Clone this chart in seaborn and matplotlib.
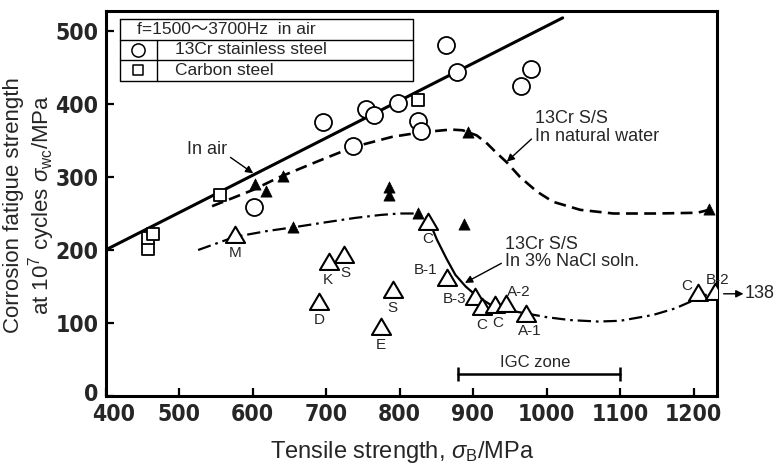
import numpy as np
import pandas as pd
import matplotlib
matplotlib.use("Agg")
import matplotlib.pyplot as plt
from matplotlib import font_manager as fm
from matplotlib.path import Path
import matplotlib.transforms as mtransforms
import seaborn as sns

# ---------------- data ----------------
circle_x = [602, 696, 737, 754, 765, 798, 825, 829, 863, 878, 965, 979]
circle_y = [259, 375, 343, 393, 385, 401, 377, 363, 481, 444, 425, 448]

square_x = [458, 458, 465, 556, 825]
square_y = [201, 216, 222, 276, 405]

filled_tri_x = [603, 619, 642, 655, 786, 786, 825, 888, 893, 1221]
filled_tri_y = [291, 281, 301, 231, 286, 276, 251, 235, 362, 256]

open_tri_labels = ["M", "K", "S", "D", "S", "E", "C", "B-1", "B-3", "C", "C",
                   "A-2", "A-1", "C", "B-2"]
open_tri_x = [576, 704, 724, 691, 791, 775, 839, 864, 903, 912, 930, 945, 972, 1206, 1229]
open_tri_y = [220, 184, 193, 129, 145, 95, 238, 161, 136, 122, 125, 126, 112, 141, 142]

air_x = [400, 1022]
air_y = [200, 518]

water_x = [545, 600, 637, 690, 737, 790, 828, 870, 886, 905, 919, 930, 946, 964,
           987, 1009, 1046, 1091, 1150, 1205, 1221]
water_y = [260, 282, 300, 322, 341, 355, 361, 365, 364, 357, 346, 335, 320, 300,
           280, 266, 255, 250, 250, 251, 255]

nacl_a_x = [526, 576, 620, 655, 700, 740, 774, 800, 825, 839]
nacl_a_y = [200, 218, 226, 231, 238, 244, 248, 250, 250, 243]
nacl_b_x = [839, 851, 864, 876, 890, 905, 927, 950, 973]
nacl_b_y = [243, 214, 188, 166, 150, 137, 123, 117, 113]
nacl_c_x = [973, 1000, 1032, 1070, 1100, 1145, 1175, 1200, 1218]
nacl_c_y = [113, 108, 104, 102, 103, 111, 120, 131, 139]

igc_x = [880, 1100]
igc_y = [30, 30]

x_ticks = [400, 500, 600, 700, 800, 900, 1000, 1100, 1200]
y_ticks = [0, 100, 200, 300, 400, 500]

# ---------------- style ----------------
sns.set_theme(style="ticks")
plt.rcParams['font.family'] = ['Liberation Sans', 'DejaVu Sans']
plt.rcParams['mathtext.fontset'] = 'custom'
plt.rcParams['mathtext.rm'] = 'Liberation Sans'
plt.rcParams['mathtext.it'] = 'Liberation Sans:italic'

# pick a condensed bold font for the tick numbers if one is installed
tick_fp = None
for fam in ['Liberation Sans Narrow', 'DejaVu Sans', 'Roboto', 'Open Sans', 'Noto Sans']:
    fp = fm.FontProperties(family=fam, weight='bold', stretch='condensed')
    try:
        path = fm.findfont(fp, fallback_to_default=False)
    except Exception:
        continue
    if 'ondensed' in path or 'arrow' in path:
        tick_fp = dict(family=fam, fontweight='bold', fontstretch='condensed', fontsize=16.5)
        break
if tick_fp is None:
    tick_fp = dict(family='Liberation Sans', fontweight='bold', fontsize=15)

fig = plt.figure(figsize=(7.75, 4.66), dpi=100)
L, R, T, B = 105.5, 717, 11, 396
ax = fig.add_axes([L / 775, 1 - B / 466, (R - L) / 775, (B - T) / 466])

K = 'black'

# lines
sns.lineplot(x=air_x, y=air_y, ax=ax, color=K, lw=2.2, sort=False)
sns.lineplot(x=water_x, y=water_y, ax=ax, color=K, lw=1.9, sort=False,
             linestyle=(0, (4.5, 2.4)))
sns.lineplot(x=nacl_a_x, y=nacl_a_y, ax=ax, color=K, lw=1.6, sort=False,
             linestyle=(0, (6, 2.2, 1.2, 2.2)))
sns.lineplot(x=nacl_b_x, y=nacl_b_y, ax=ax, color=K, lw=1.6, sort=False)
sns.lineplot(x=nacl_c_x, y=nacl_c_y, ax=ax, color=K, lw=1.6, sort=False,
             linestyle=(0, (6, 2.2, 1.2, 2.2)))

# markers
tri_open = Path([(-1, -0.78), (1, -0.78), (0, 0.92), (-1, -0.78)],
                [Path.MOVETO, Path.LINETO, Path.LINETO, Path.CLOSEPOLY])
sns.scatterplot(x=circle_x, y=circle_y, ax=ax, marker='o', s=150,
                facecolor='white', edgecolor=K, linewidth=1.3, zorder=5)
sns.scatterplot(x=square_x, y=square_y, ax=ax, marker='s', s=80,
                facecolor='white', edgecolor=K, linewidth=1.3, zorder=5)
sns.scatterplot(x=filled_tri_x, y=filled_tri_y, ax=ax, marker='^', s=65,
                color=K, edgecolor=K, linewidth=0.5, zorder=5)
sns.scatterplot(x=open_tri_x, y=open_tri_y, ax=ax, marker=tri_open, s=190,
                facecolor='white', edgecolor=K, linewidth=1.5, zorder=5)

# triangle labels (offsets in points)
label_offsets = {0: (0, -13), 1: (-1, -13), 2: (1, -13), 3: (0, -13), 4: (0, -13),
                 5: (0, -13), 6: (0, -12), 7: (-15, 6), 8: (-15, -2), 9: (0, -13),
                 10: (2, -13), 11: (9, 9), 12: (3, -12), 13: (-8, 5), 14: (2, 9)}
for i, (lab, x, y) in enumerate(zip(open_tri_labels, open_tri_x, open_tri_y)):
    dx, dy = label_offsets[i]
    ax.annotate(lab, (x, y), xytext=(dx, dy), textcoords='offset points',
                ha='center', va='center', fontsize=11, zorder=6)

# IGC zone bar
ax.plot(igc_x, igc_y, color=K, lw=1.8, marker='|', markersize=10, mew=1.8)
ax.text(np.mean(igc_x) - 5, 46, "IGC zone", ha='center', va='center', fontsize=12)

# annotations
arrow = dict(arrowstyle='-|>', color=K, lw=1.0, mutation_scale=11, shrinkA=0, shrinkB=0)
ax.annotate("In air", xy=(601, 305), xytext=(511, 337), ha='left', va='center',
            fontsize=13, arrowprops=dict(arrow, relpos=(1.0, 0.2)))
ax.annotate("13Cr S/S\nIn natural water", xy=(946, 321), xytext=(984, 368),
            ha='left', va='center', fontsize=13, linespacing=1.05,
            arrowprops=dict(arrow, relpos=(0.0, 0.25)))
ax.annotate("13Cr S/S\nIn 3% NaCl soln.", xy=(889, 155), xytext=(943, 196),
            ha='left', va='center', fontsize=13, linespacing=1.05,
            arrowprops=dict(arrow, relpos=(0.0, 0.25)))
ax.annotate("", xy=(1268, 140), xytext=(1241, 140), annotation_clip=False,
            arrowprops=dict(arrow))
ax.text(1270, 140, "138", ha='left', va='center', fontsize=13, clip_on=False)

# legend table (axes fraction)
def px2ax(px, py):
    return ((px - L) / (R - L), 1 - (py - T) / (B - T))

x0, ytop = px2ax(120, 19)
x1, ybot = px2ax(413, 81)
_, yr1 = px2ax(0, 40)
_, yr2 = px2ax(0, 60)
xc, _ = px2ax(157, 0)
lw_t = 1.0
tr = ax.transAxes
ax.plot([x0, x1, x1, x0, x0], [ytop, ytop, ybot, ybot, ytop], color=K, lw=lw_t, transform=tr, zorder=7)
ax.plot([x0, x1], [yr1, yr1], color=K, lw=lw_t, transform=tr, zorder=7)
ax.plot([x0, x1], [yr2, yr2], color=K, lw=lw_t, transform=tr, zorder=7)
ax.plot([xc, xc], [yr1, ybot], color=K, lw=lw_t, transform=tr, zorder=7)
ax.fill_between([x0, x1], [ybot, ybot], [ytop, ytop], color='white', transform=tr, zorder=6.5)
tx, _ = px2ax(137, 0)
ax.text(tx, (ytop + yr1) / 2, "f=1500〜3700Hz  in air", transform=tr, ha='left', va='center',
        fontsize=12.5, family=['Liberation Sans', 'Noto Sans CJK JP'], zorder=8)
mx, _ = px2ax(138, 0)
ax.scatter([mx], [(yr1 + yr2) / 2], marker='o', s=90, facecolor='white', edgecolor=K,
           linewidth=1.1, transform=tr, zorder=8, clip_on=False)
ax.scatter([mx], [(yr2 + ybot) / 2], marker='s', s=60, facecolor='white', edgecolor=K,
           linewidth=1.1, transform=tr, zorder=8, clip_on=False)
lx, _ = px2ax(175, 0)
ax.text(lx, (yr1 + yr2) / 2, "13Cr stainless steel", transform=tr, ha='left', va='center',
        fontsize=12.5, zorder=8)
ax.text(lx, (yr2 + ybot) / 2, "Carbon steel", transform=tr, ha='left', va='center',
        fontsize=12.5, zorder=8)

# axes
ax.set_xlim(400, 400 + (R - L) / 0.735)
ax.set_ylim(0, (B - T) / 0.73)
ax.set_xticks(x_ticks)
ax.set_yticks(y_ticks)
ax.set_xticklabels([str(v) for v in x_ticks], **tick_fp)
ax.set_yticklabels([str(v) for v in y_ticks], **tick_fp)
ax.tick_params(direction='in', length=6, width=1.6, pad=5, color=K)
# first x label sits a little right of its tick, clear of the "0"
first = ax.get_xticklabels()[0]
first.set_transform(first.get_transform() +
                    mtransforms.ScaledTranslation(8 / 100, 0, fig.dpi_scale_trans))
zero = ax.get_yticklabels()[0]
zero.set_transform(zero.get_transform() +
                   mtransforms.ScaledTranslation(0, 4 / 100, fig.dpi_scale_trans))
for sp in ax.spines.values():
    sp.set_visible(True)
    sp.set_linewidth(2.2)
    sp.set_color(K)
ax.set_xlabel(r"Tensile strength, $\sigma_{\rm B}$/MPa", fontsize=17)
ax.xaxis.set_label_coords(px2ax(402, 0)[0], px2ax(0, 452)[1])
ax.xaxis.label.set_va('center')
ax.set_ylabel("Corrosion fatigue strength\n" + r"at 10$^7$ cycles $\sigma_{\rm wc}$/MPa",
              fontsize=16, linespacing=1.05)
ax.yaxis.set_label_coords(px2ax(30, 0)[0], px2ax(0, 205)[1])
ax.yaxis.label.set_va('center')
ax.grid(False)
ax.set_facecolor('white')
fig.patch.set_facecolor('white')

fig.savefig("out.png", dpi=100)
